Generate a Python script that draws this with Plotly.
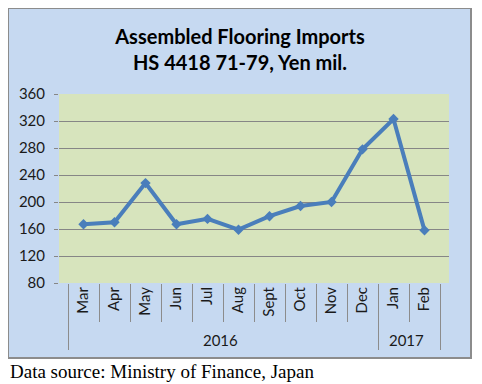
import plotly.graph_objects as go

years = ["2016"] * 10 + ["2017"] * 2
months = ["Mar", "Apr", "May", "Jun", "Jul", "Aug", "Sept", "Oct", "Nov", "Dec", "Jan", "Feb"]
values = [167, 170, 228, 167, 175, 159, 179, 194, 200, 278, 323, 158]
y_ticks = [80, 120, 160, 200, 240, 280, 320, 360]

OFF = 8  # browser body margin
W, H = 482 - OFF, 384 - OFF
L, R, T, B = 59 - OFF, 449 - OFF, 94 - OFF, 283 - OFF
pw, ph = R - L, B - T

def px(x):
    return (x - OFF - L) / pw

def py(y):
    return (B - (y - OFF)) / ph

fig = go.Figure()
fig.add_trace(go.Scatter(
    x=[years, months], y=values, mode="lines+markers",
    line=dict(color="#4A7EBB", width=4),
    marker=dict(symbol="diamond", size=8, color="#4A7EBB"),
    showlegend=False, hoverinfo="skip",
))

shapes = [
    dict(type="rect", xref="paper", yref="paper", x0=px(8), x1=px(471), y0=py(358), y1=py(8),
         fillcolor="#C6D9F1", line=dict(color="#8C8C8C", width=2), layer="below"),
    dict(type="rect", xref="paper", yref="paper", x0=0, x1=1, y0=0, y1=1,
         fillcolor="#D7E4BD", line=dict(width=0), layer="below"),
]

fig.update_layout(
    width=W, height=H,
    margin=dict(l=L, r=W - R, t=T, b=H - B, pad=0),
    paper_bgcolor="white", plot_bgcolor="rgba(0,0,0,0)",
    font=dict(family="Lato, Open Sans, sans-serif", color="#1a1a1a"),
    shapes=shapes,
    title=dict(text="<b>Assembled Flooring Imports<br>HS 4418 71-79, Yen mil.</b>",
               x=px(240), xref="paper", xanchor="center", y=1 - (44 - OFF) / H, yanchor="middle",
               font=dict(size=20, color="black")),
    xaxis=dict(type="multicategory", tickangle=-90, ticks="outside", ticklen=38,
               tickcolor="#8C8C8C", tickwidth=1, showdividers=True, dividercolor="#8C8C8C",
               dividerwidth=1, showgrid=False, showline=False, zeroline=False,
               tickfont=dict(size=15, color="#1a1a1a")),
    yaxis=dict(range=[80, 360], tickvals=y_ticks, showgrid=True, gridcolor="#868686",
               gridwidth=1, zeroline=False, showline=False, ticks="outside", ticklen=4,
               tickcolor="#868686", ticklabelstandoff=6, tickfont=dict(size=15, color="#1a1a1a")),
    annotations=[dict(text="Data source: Ministry of Finance, Japan", xref="paper", yref="paper",
                      x=px(8), y=py(371), xanchor="left", yanchor="middle", showarrow=False,
                      font=dict(family="Liberation Serif, Times New Roman, serif", size=19, color="black"))],
)

fig.write_html("out.html")
